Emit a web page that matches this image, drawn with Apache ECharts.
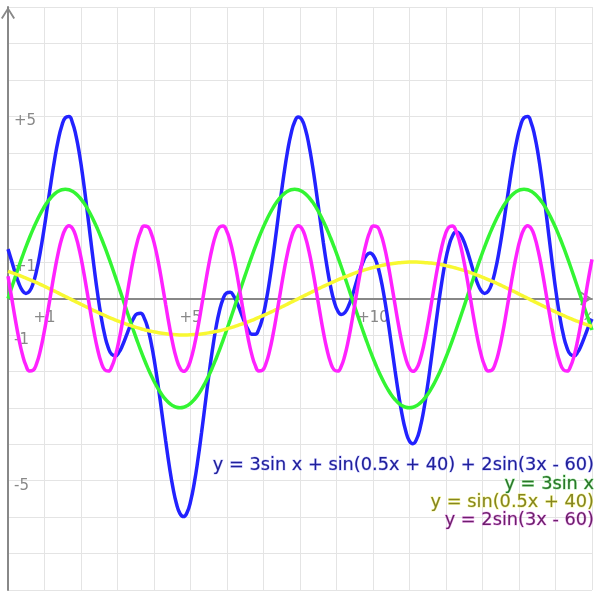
<!DOCTYPE html>
<html><head><meta charset="utf-8">
<script src="https://cdn.jsdelivr.net/npm/echarts@6/dist/echarts.min.js"></script>
<style>html,body{margin:0;padding:0;background:#fff}#c{width:600px;height:600px}</style>
</head><body><div id="c"></div>
<script>
// sample positions along x (radians)
const xValues = [0,0.0982,0.1963,0.2945,0.3927,0.4909,0.5890,0.6872,0.7854,0.8836,0.9817,1.0799,1.1781,1.2763,1.3744,1.4726,
1.5708,1.6690,1.7671,1.8653,1.9635,2.0617,2.1598,2.2580,2.3562,2.4544,2.5525,2.6507,2.7489,2.8471,2.9452,3.0434,
3.1416,3.2398,3.3379,3.4361,3.5343,3.6325,3.7306,3.8288,3.9270,4.0252,4.1233,4.2215,4.3197,4.4179,4.5160,4.6142,
4.7124,4.8106,4.9087,5.0069,5.1051,5.2033,5.3014,5.3996,5.4978,5.5960,5.6941,5.7923,5.8905,5.9887,6.0868,6.1850,
6.2832,6.3814,6.4795,6.5777,6.6759,6.7741,6.8722,6.9704,7.0686,7.1668,7.2649,7.3631,7.4613,7.5595,7.6576,7.7558,
7.8540,7.9522,8.0503,8.1485,8.2467,8.3449,8.4430,8.5412,8.6394,8.7376,8.8357,8.9339,9.0321,9.1303,9.2284,9.3266,
9.4248,9.5230,9.6211,9.7193,9.8175,9.9157,10.0138,10.1120,10.2102,10.3084,10.4065,10.5047,10.6029,10.7011,10.7992,10.8974,
10.9956,11.0938,11.1919,11.2901,11.3883,11.4865,11.5846,11.6828,11.7810,11.8792,11.9773,12.0755,12.1737,12.2719,12.3700,12.4682,
12.5664,12.6646,12.7627,12.8609,12.9591,13.0573,13.1554,13.2536,13.3518,13.4500,13.5481,13.6463,13.7445,13.8427,13.9408,14.0390,
14.1372,14.2354,14.3335,14.4317,14.5299,14.6281,14.7262,14.8244,14.9226,15.0208,15.1189,15.2171,15.3153,15.4135,15.5116,15.6098,
15.7080,15.8062,15.9043,16];
// y = 3sin x + sin(0.5x + 40) + 2sin(3x - 60)
const sumValues = [1.3547,1.036,0.7101,0.4244,0.2222,0.139,0.1989,0.4128,0.7765,1.2718,1.8676,2.522,3.1863,3.8092,4.3404,4.7356,
4.9601,4.9916,4.822,4.4587,3.9232,3.2502,2.4838,1.6744,0.8745,0.1338,-0.5045,-1.0071,-1.3539,-1.5387,-1.5705,-1.4718,
-1.2765,-1.0272,-0.7707,-0.5542,-0.421,-0.4063,-0.534,-0.8149,-1.2446,-1.8049,-2.4643,-3.1809,-3.9058,-4.5876,-5.1757,-5.626,
-5.9033,-5.9854,-5.864,-5.5463,-5.0539,-4.4212,-3.6922,-2.9174,-2.1491,-1.4369,-0.824,-0.3436,-0.0158,0.1534,0.1729,0.0653,
-0.1355,-0.387,-0.6423,-0.854,-0.9792,-0.9824,-0.8399,-0.541,-0.0899,0.495,1.1822,1.9296,2.6883,3.4068,4.0346,4.5272,
4.8495,4.9792,4.9078,4.6423,4.2044,3.6282,2.9576,2.243,1.5365,0.8876,0.3393,-0.0753,-0.3363,-0.4379,-0.3891,-0.2126,
0.0573,0.3782,0.7029,0.9838,1.178,1.2497,1.175,0.9431,0.558,0.0381,-0.5855,-1.2707,-1.9688,-2.6284,-3.1993,-3.6368,
-3.9063,-3.9854,-3.8658,-3.5547,-3.0737,-2.4572,-1.7492,-1,-0.2619,0.4155,0.9892,1.426,1.706,1.8232,1.7867,1.6191,
1.3547,1.036,0.7101,0.4244,0.2222,0.139,0.1989,0.4128,0.7765,1.2718,1.8676,2.522,3.1863,3.8092,4.3404,4.7356,
4.9601,4.9916,4.822,4.4587,3.9232,3.2502,2.4838,1.6744,0.8745,0.1338,-0.5045,-1.0071,-1.3539,-1.5387,-1.5705,-1.4718,
-1.2765,-1.0272,-0.7707,-0.5589];
// y = 3sin x
const sinValues = [0,0.2941,0.5853,0.8709,1.148,1.4142,1.6667,1.9032,2.1213,2.319,2.4944,2.6458,2.7716,2.8708,2.9424,2.9856,
3,2.9856,2.9424,2.8708,2.7716,2.6458,2.4944,2.319,2.1213,1.9032,1.6667,1.4142,1.148,0.8709,0.5853,0.2941,
0,-0.2941,-0.5853,-0.8709,-1.148,-1.4142,-1.6667,-1.9032,-2.1213,-2.319,-2.4944,-2.6458,-2.7716,-2.8708,-2.9424,-2.9856,
-3,-2.9856,-2.9424,-2.8708,-2.7716,-2.6458,-2.4944,-2.319,-2.1213,-1.9032,-1.6667,-1.4142,-1.148,-0.8709,-0.5853,-0.2941,
0,0.2941,0.5853,0.8709,1.148,1.4142,1.6667,1.9032,2.1213,2.319,2.4944,2.6458,2.7716,2.8708,2.9424,2.9856,
3,2.9856,2.9424,2.8708,2.7716,2.6458,2.4944,2.319,2.1213,1.9032,1.6667,1.4142,1.148,0.8709,0.5853,0.2941,
0,-0.2941,-0.5853,-0.8709,-1.148,-1.4142,-1.6667,-1.9032,-2.1213,-2.319,-2.4944,-2.6458,-2.7716,-2.8708,-2.9424,-2.9856,
-3,-2.9856,-2.9424,-2.8708,-2.7716,-2.6458,-2.4944,-2.319,-2.1213,-1.9032,-1.6667,-1.4142,-1.148,-0.8709,-0.5853,-0.2941,
0,0.2941,0.5853,0.8709,1.148,1.4142,1.6667,1.9032,2.1213,2.319,2.4944,2.6458,2.7716,2.8708,2.9424,2.9856,
3,2.9856,2.9424,2.8708,2.7716,2.6458,2.4944,2.319,2.1213,1.9032,1.6667,1.4142,1.148,0.8709,0.5853,0.2941,
0,-0.2941,-0.5853,-0.8637];
// y = sin(0.5x + 40)
const slowValues = [0.7451,0.7115,0.6762,0.6392,0.6007,0.5607,0.5194,0.4769,0.4332,0.3884,0.3427,0.2962,0.249,0.2012,0.1529,0.1042,0.0553,0.0062,
-0.0429,-0.0918,-0.1406,-0.189,-0.2369,-0.2843,-0.331,-0.3769,-0.4219,-0.4659,-0.5088,-0.5504,-0.5907,-0.6296,-0.6669,-0.7027,-0.7368,-0.769,-0.7995,-0.828,-0.8545,-0.879,-0.9013,-0.9215,-0.9394,-0.9551,-0.9685,-0.9796,-0.9882,-0.9946,-0.9985,-1,
-0.9991,-0.9958,-0.9901,-0.982,-0.9715,-0.9587,-0.9436,-0.9262,-0.9066,-0.8848,-0.8609,-0.8349,-0.8069,-0.7769,-0.7451,-0.7115,-0.6762,-0.6392,-0.6007,-0.5607,-0.5194,-0.4769,-0.4332,-0.3884,-0.3427,-0.2962,-0.249,-0.2012,-0.1529,-0.1042,-0.0553,-0.0062,
0.0429,0.0918,0.1406,0.189,0.2369,0.2843,0.331,0.3769,0.4219,0.4659,0.5088,0.5504,0.5907,0.6296,0.6669,0.7027,0.7368,0.769,0.7995,0.828,0.8545,0.879,0.9013,0.9215,0.9394,0.9551,0.9685,0.9796,0.9882,0.9946,0.9985,1,
0.9991,0.9958,0.9901,0.982,0.9715,0.9587,0.9436,0.9262,0.9066,0.8848,0.8609,0.8349,0.8069,0.7769,0.7451,0.7115,0.6762,0.6392,0.6007,0.5607,0.5194,0.4769,0.4332,0.3884,0.3427,0.2962,0.249,0.2012,0.1529,0.1042,0.0553,0.0062,
-0.0429,-0.0918,-0.1406,-0.189,-0.2369,-0.2843,-0.331,-0.3769,-0.4219,-0.4659,-0.5088,-0.5504,-0.5907,-0.6296,-0.6669,-0.7027,-0.7368,
-0.7683];
// y = 2sin(3x - 60)
const triValues = [0.6096,0.0304,-0.5514,-1.0857,-1.5265,-1.8359,-1.9872,-1.9673,-1.778,-1.4356,-0.9695,-0.42,0.1657,0.7372,1.2451,1.6458,
1.9048,1.9998,1.9225,1.6797,1.2922,0.7934,0.2263,-0.3603,-0.9158,-1.3925,-1.7493,-1.9554,-1.9931,-1.8592,-1.5651,-1.1363,
-0.6096,-0.0304,0.5514,1.0857,1.5265,1.8359,1.9872,1.9673,1.778,1.4356,0.9695,0.42,-0.1657,-0.7372,-1.2451,-1.6458,
-1.9048,-1.9998,-1.9225,-1.6797,-1.2922,-0.7934,-0.2263,0.3603,0.9158,1.3925,1.7493,1.9554,1.9931,1.8592,1.5651,1.1363,
0.6096,0.0304,-0.5514,-1.0857,-1.5265,-1.8359,-1.9872,-1.9673,-1.778,-1.4356,-0.9695,-0.42,0.1657,0.7372,1.2451,1.6458,
1.9048,1.9998,1.9225,1.6797,1.2922,0.7934,0.2263,-0.3603,-0.9158,-1.3925,-1.7493,-1.9554,-1.9931,-1.8592,-1.5651,-1.1363,
-0.6096,-0.0304,0.5514,1.0857,1.5265,1.8359,1.9872,1.9673,1.778,1.4356,0.9695,0.42,-0.1657,-0.7372,-1.2451,-1.6458,
-1.9048,-1.9998,-1.9225,-1.6797,-1.2922,-0.7934,-0.2263,0.3603,0.9158,1.3925,1.7493,1.9554,1.9931,1.8592,1.5651,1.1363,
0.6096,0.0304,-0.5514,-1.0857,-1.5265,-1.8359,-1.9872,-1.9673,-1.778,-1.4356,-0.9695,-0.42,0.1657,0.7372,1.2451,1.6458,
1.9048,1.9998,1.9225,1.6797,1.2922,0.7934,0.2263,-0.3603,-0.9158,-1.3925,-1.7493,-1.9554,-1.9931,-1.8592,-1.5651,-1.1363,
-0.6096,-0.0304,0.5514,1.0731];

const xTickValues = [1, 5, 10];
const xTickLabels = ['+1', '+5', '+10'];
const yTickValues = [5, 1, -1, -5];
const yTickLabels = ['+5', '+1', '-1', '-5'];
const xAxisTitle = 'x';
const seriesNames = ['y = 3sin x + sin(0.5x + 40) + 2sin(3x - 60)', 'y = 3sin x', 'y = sin(0.5x + 40)', 'y = 2sin(3x - 60)'];
const lineColors = ['#2222ff', '#33f533', '#f8f832', '#ff22ff'];
const textColors = ['#20209a', '#2a742a', '#858520', '#6c1f6c'];
const haloColors = ['rgba(80,80,255,0.35)', 'rgba(60,220,60,0.45)', 'rgba(240,240,60,0.55)', 'rgba(230,60,230,0.4)'];

const seriesValues = [sumValues, sinValues, slowValues, triValues];
const pairs = vals => xValues.map((x, i) => [x, vals[i]]);

const chevron = 'path://M0,11 L7,0 L14,11 L12.4,12 L7,3.2 L1.6,12 Z';
const font = 'DejaVu Sans';
const drawOrder = [0, 1, 2, 3];

const chart = echarts.init(document.getElementById('c'), null, {renderer: 'canvas'});
chart.setOption({
  animation: false,
  backgroundColor: '#ffffff',
  grid: {left: 8, right: 8, top: 7, bottom: 10, containLabel: false, outerBoundsMode: 'none'},
  xAxis: {
    type: 'value', min: 0, max: 16, interval: 1, position: 'bottom', offset: -291.5,
    axisLine: {show: true, onZero: false, symbol: ['none', chevron], symbolSize: [14, 12], symbolOffset: [0, -6],
      lineStyle: {color: '#888', width: 2}},
    axisTick: {show: false},
    axisLabel: {show: true, margin: 12, color: '#888', fontFamily: font, fontSize: 15,
      formatter: v => { const i = xTickValues.indexOf(v); return i >= 0 ? xTickLabels[i] : ''; }},
    splitLine: {show: true, lineStyle: {color: '#e4e4e4', width: 1}}
  },
  yAxis: {
    type: 'value', min: -8, max: 8, interval: 1,
    axisLine: {show: true, onZero: false, symbol: ['none', chevron], symbolSize: [14, 12], symbolOffset: [0, -6],
      lineStyle: {color: '#888', width: 2}},
    axisTick: {show: false},
    axisLabel: {show: true, inside: true, margin: 6, color: '#888', fontFamily: font, fontSize: 15,
      align: 'left', verticalAlign: 'top', lineHeight: 10,
      formatter: v => { const i = yTickValues.indexOf(v); return i >= 0 ? yTickLabels[i] : ''; }},
    splitLine: {show: true, lineStyle: {color: '#e4e4e4', width: 1}}
  },
  graphic: seriesNames.map((t, i) => ({
    type: 'text', x: 594, y: [465, 484, 502, 520][i], z: 100,
    style: {text: t, fill: textColors[i], stroke: haloColors[i], lineWidth: 1, strokeFirst: true,
      font: '17.75px "' + font + '"', align: 'right', verticalAlign: 'middle'}
  })).concat([{
    type: 'text', x: 588, y: 316, z: 0,
    style: {text: xAxisTitle, fill: '#999', font: '14px "' + font + '"', align: 'center', verticalAlign: 'middle'}
  }]),
  series: drawOrder.map(i => ({
    name: seriesNames[i], type: 'line', data: pairs(seriesValues[i]),
    showSymbol: false, smooth: true, clip: true,
    lineStyle: {color: lineColors[i], width: 3.5},
    itemStyle: {color: lineColors[i]},
    z: 2 + i
  }))
});
</script></body></html>
